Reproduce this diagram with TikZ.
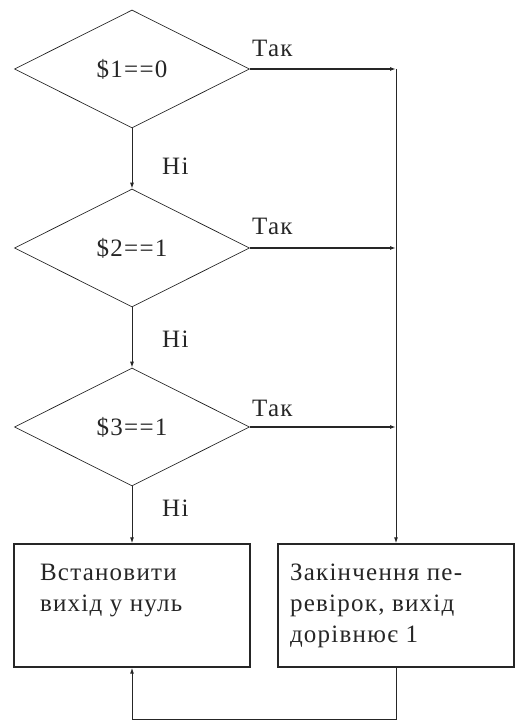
\documentclass[tikz,border=0pt]{standalone}
\usepackage{fontspec}
\setmainfont{Liberation Serif}[LetterSpace=5]
\usetikzlibrary{shapes.geometric,arrows.meta}
\definecolor{ink}{HTML}{262626}
\tikzstyle{cond}=[diamond, draw=ink, line width=0.7pt, minimum width=235pt, minimum height=118pt, inner sep=0pt, text=ink, font=\fontsize{25}{31}\selectfont]
\tikzstyle{act}=[rectangle, draw=ink, line width=1.4pt, minimum width=236pt, minimum height=123pt, inner sep=0pt, text=ink, font=\fontsize{25}{31}\selectfont]
\tikzstyle{flow}=[draw=ink, line width=1pt, -{Latex[length=6pt,width=4pt]}]
\tikzstyle{yes}=[flow, line width=1.8pt]
\tikzstyle{lbl}=[anchor=base west, inner sep=0pt, text=ink, font=\fontsize{25}{31}\selectfont]

\begin{document}
\begin{tikzpicture}[x=1pt, y=1pt]
\useasboundingbox (0,0) rectangle (515,722);

\node [cond] (c1) at (132, 653) {\$1==0};
\node [cond] (c2) at (132, 474) {\$2==1};
\node [cond] (c3) at (132, 295) {\$3==1};
\node [act] (zero) at (132, 116.5) {\parbox[t][83pt][t]{184pt}{Встановити\\вихід у нуль}};
\node [act] (done) at (396, 116.5) {\parbox[t][83pt][t]{212pt}{Закінчення пе-\\ревірок, вихід\\дорівнює 1}};
\coordinate (bot) at (264, 2);

\node [lbl] (t1) at (252, 665) {Так};
\node [lbl] (t2) at (252, 487) {Так};
\node [lbl] (t3) at (252, 305) {Так};
\node [lbl] (n1) at (162, 547) {Ні};
\node [lbl] (n2) at (162, 374) {Ні};
\node [lbl] (n3) at (162, 205) {Ні};

\draw [flow] (c1) -- (c2);
\draw [flow] (c2) -- (c3);
\draw [flow] (c3) -- (zero);
\draw [yes] (c1.east) -- (c1.east -| done.north);
\draw [yes] (c2.east) -- (c2.east -| done.north);
\draw [yes] (c3.east) -- (c3.east -| done.north);
\draw [flow] (c1.east -| done.north) -- (done.north);
\draw [flow] (done.south) -- (done.south |- bot) -- (zero.south |- bot) -- (zero.south);

\end{tikzpicture}
\end{document}
